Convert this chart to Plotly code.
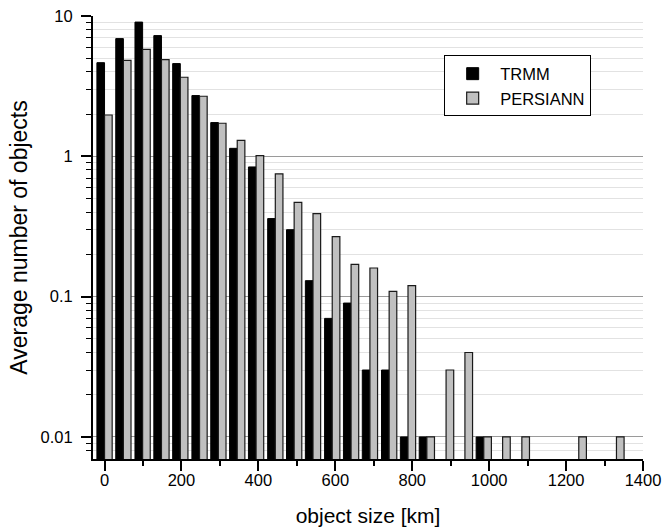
import plotly.graph_objects as go

# bin centres (km)
bin_center_km = [0, 49, 99, 148, 197, 247, 296, 345, 394, 444, 493, 542, 592, 641,
                 690, 740, 789, 838, 888, 937, 986, 1035, 1085, 1134, 1183, 1233, 1282, 1331]

trmm = [4.65, 6.9, 9.05, 7.25, 4.58, 2.71, 1.74, 1.14, 0.84, 0.36, 0.30, 0.13, 0.070, 0.090,
        0.030, 0.030, 0.010, 0.010, None, None, 0.010, None, None, None, None, None, None, None]

persiann = [1.97, 4.83, 5.79, 4.89, 3.66, 2.68, 1.72, 1.30, 1.01, 0.75, 0.47, 0.39, 0.268, 0.17,
            0.16, 0.109, 0.12, 0.010, 0.030, 0.040, 0.010, 0.010, 0.010, None, None, 0.010, None, 0.010]

x_tick_vals = [0, 200, 400, 600, 800, 1000, 1200, 1400]
x_minor_vals = [100, 300, 500, 700, 900, 1100, 1300]
y_tick_vals = [0.01, 0.1, 1, 10]
y_tick_text = ["0.01", "0.1", "1", "10"]
y_minor_vals = [m * d for d in (0.001, 0.01, 0.1, 1) for m in range(2, 10) if 0.007 < m * d < 10]

FONT = "Liberation Sans, Arial, sans-serif"

fig = go.Figure()
fig.add_trace(go.Bar(x=bin_center_km, y=trmm, name="TRMM",
                     marker=dict(color="#000000", line=dict(color="#000000", width=1))))
fig.add_trace(go.Bar(x=bin_center_km, y=persiann, name="PERSIANN",
                     marker=dict(color="#c0c0c0", line=dict(color="#1a1a1a", width=1.2))))

fig.update_layout(
    width=663, height=530,
    margin=dict(l=92.5, r=20, t=15.7, b=70.7, autoexpand=False),
    paper_bgcolor="white", plot_bgcolor="white",
    barmode="group", bargap=0.19, bargroupgap=0,
    font=dict(family=FONT, size=16.5, color="black"),
    showlegend=True,
    legend=dict(x=0.6385, y=0.911, xanchor="left", yanchor="top",
                bordercolor="black", borderwidth=1, bgcolor="white",
                font=dict(family=FONT, size=16.5, color="black"),
                tracegroupgap=0, itemwidth=45),
)

fig.update_xaxes(
    range=[-30, 1400], tickvals=x_tick_vals, ticktext=[str(v) for v in x_tick_vals],
    automargin=False,
    ticks="outside", ticklen=10, tickwidth=1.5, tickcolor="black",
    showline=True, linecolor="black", linewidth=2, showgrid=False, zeroline=False,
    tickfont=dict(family=FONT, size=16.5, color="black"), ticklabelstandoff=-5,
    minor=dict(tickvals=x_minor_vals, ticks="outside", ticklen=5, tickwidth=1.5,
               tickcolor="black", showgrid=False),
    title=dict(text="object size [km]", font=dict(family=FONT, size=21, color="black"), standoff=21),
)

fig.update_yaxes(
    type="log", range=[-2.157, 1.0], tickvals=y_tick_vals, ticktext=y_tick_text,
    automargin=False,
    ticks="outside", ticklen=10, tickwidth=1.5, tickcolor="black",
    showline=True, linecolor="black", linewidth=2,
    showgrid=True, gridcolor="#9a9a9a", gridwidth=1, zeroline=False,
    tickfont=dict(family=FONT, size=16.5, color="black"), ticklabelstandoff=5,
    minor=dict(tickvals=y_minor_vals, ticks="outside", ticklen=5, tickwidth=1.2,
               tickcolor="black", showgrid=True, gridcolor="#e2e2e2", gridwidth=1),
    title=dict(text="Average number of objects", font=dict(family=FONT, size=23, color="black"), standoff=7),
)

fig.write_html("out.html")
